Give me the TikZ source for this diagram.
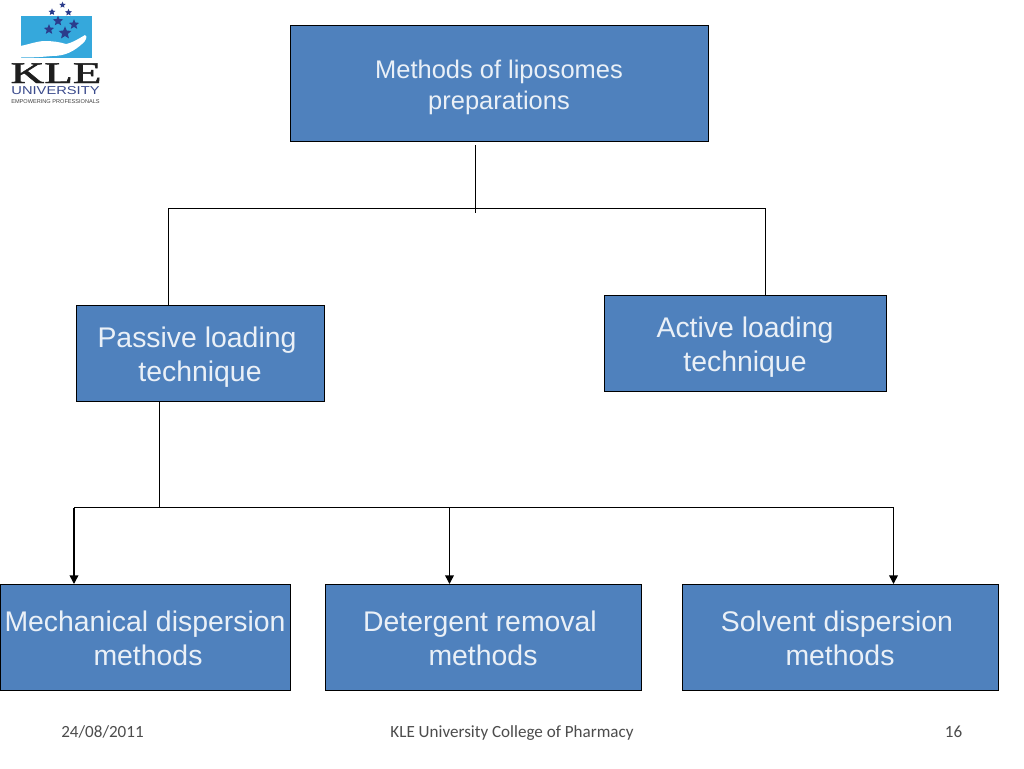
\documentclass[tikz,border=0pt]{standalone}
\usepackage{fontspec}
\setmainfont{Liberation Sans}
\newfontfamily\footfont{Carlito}
\newfontfamily\logoserif[FakeBold=1.5]{Liberation Serif}
\usetikzlibrary{arrows.meta,shapes.geometric}
\definecolor{boxblue}{HTML}{4F81BD}
\definecolor{logoblue}{HTML}{35A8DC}
\definecolor{stardark}{HTML}{2B3C8C}
\definecolor{kletext}{HTML}{1E1E1E}
\definecolor{unitext}{HTML}{3A4A8C}
\tikzset{
  bluebox/.style={draw=black,line width=0.7pt,fill=boxblue,anchor=north west,inner sep=0pt},
  boxtext/.style={text=white!88!boxblue,align=center,inner sep=0pt,anchor=base},
  bigtext/.style={boxtext,font=\fontsize{21.3}{26}\selectfont},
  conn/.style={draw=black,line width=0.8pt},
  connarrow/.style={conn,line width=1.1pt,-{Triangle[length=6.5pt,width=6.5pt]}},
  foot/.style={font=\footfont\fontsize{12.8}{14}\selectfont,text=black!70,inner sep=0pt,anchor=base},
  lstar/.style={star,star points=5,star point ratio=2.2,fill=stardark,inner sep=0pt},
}
\begin{document}
\begin{tikzpicture}[x=0.75pt,y=-0.75pt]
\useasboundingbox (0,0) rectangle (1024,768);
\fill[white] (0,0) rectangle (1024,768);
% boxes
\node[bluebox,minimum width=418.5*0.75pt,minimum height=115.5*0.75pt] (top) at (289.5,25) {};
\node[bluebox,minimum width=248*0.75pt,minimum height=96.5*0.75pt] (passive) at (76,304.5) {};
\node[bluebox,minimum width=282*0.75pt,minimum height=96.5*0.75pt] (active) at (604,294.5) {};
\node[bluebox,minimum width=290.5*0.75pt,minimum height=106*0.75pt] (mech) at (-0.5,584) {};
\node[bluebox,minimum width=316*0.75pt,minimum height=106*0.75pt] (det) at (325,584) {};
\node[bluebox,minimum width=316*0.75pt,minimum height=106*0.75pt] (solv) at (682,584) {};
% text
\node[boxtext,font=\fontsize{19.1}{22}\selectfont] (t1a) at (499,78) {Methods of liposomes};
\node[boxtext,font=\fontsize{19.1}{22}\selectfont] (t1b) at (499,109) {preparations};
\node[bigtext] (t2a) at (197,347) {Passive loading};
\node[bigtext] (t2b) at (200,381) {technique};
\node[bigtext] (t3a) at (745,337) {Active loading};
\node[bigtext] (t3b) at (745,371) {technique};
\node[bigtext] (t4a) at (145,631) {Mechanical dispersion};
\node[bigtext] (t4b) at (148,665) {methods};
\node[bigtext] (t5a) at (480,631) {Detergent removal};
\node[bigtext] (t5b) at (483,665) {methods};
\node[bigtext] (t6a) at (837,631) {Solvent dispersion};
\node[bigtext] (t6b) at (840,665) {methods};
% connector points
\coordinate (a0) at (475.5,145);
\coordinate (a1) at (475.5,213);
\coordinate (al) at (168.5,208.5);
\coordinate (ar) at (765.5,208.5);
\coordinate (bj) at (159.5,507.5);
\coordinate (bl) at (74,507.5);
\coordinate (bm) at (449.5,507.5);
\coordinate (br) at (893.5,507.5);
% connectors
\draw[conn] (a0) -- (a1);
\draw[conn] (passive.north -| al) -- (al) -- (ar) -- (active.north -| ar);
\draw[conn] (passive.south -| bj) -- (bj);
\draw[conn] (bl) -- (br);
\draw[connarrow] (bl) -- (mech.north -| bl);
\draw[connarrow] (bm) -- (det.north -| bm);
\draw[connarrow] (br) -- (solv.north -| br);
% footer
\node[foot] (f1) at (102.5,737) {24/08/2011};
\node[foot] (f2) at (512,737) {KLE University College of Pharmacy};
\node[foot] (f3) at (953.5,737) {16};
% logo
\fill[logoblue] (20.5,16) rectangle (91.5,58);
\fill[white] (20.5,57.5) -- (20.5,46) .. controls (30,44) and (38,41) .. (45,41) .. controls (52,41) and (60,42) .. (66,44) .. controls (72,43) and (80,38) .. (85,35) .. controls (88,36) and (86,41) .. (82,44) .. controls (74,51) and (66,56) .. (52,56) .. controls (42,57) and (32,57.5) .. (20.5,57.5) -- cycle;
\node[lstar,minimum size=8pt] (s1) at (58,21) {};
\node[lstar,minimum size=5pt] (s0) at (62.5,5) {};
\node[lstar,minimum size=5.5pt] (s2) at (52,12) {};
\node[lstar,minimum size=5.5pt] (s3) at (68.5,12.5) {};
\node[lstar,minimum size=8pt] (s4) at (49,29.5) {};
\node[lstar,minimum size=8pt] (s5) at (74,24.5) {};
\node[lstar,minimum size=10pt] (s6) at (65,33) {};
\node[inner sep=0pt,anchor=base,text=kletext] (kle) at (56,83) {\logoserif\fontsize{22.5}{24}\selectfont\scalebox{1.56}[1]{KLE}};
\node[inner sep=0pt,anchor=base,text=unitext] (uni) at (55.5,94) {\fontsize{8.6}{10}\selectfont\scalebox{1.28}[1]{UNIVERSITY}};
\node[inner sep=0pt,anchor=base,text=black!75,font=\fontsize{4.2}{5}\selectfont] (emp) at (55.5,103) {EMPOWERING PROFESSIONALS};
\end{tikzpicture}
\end{document}
